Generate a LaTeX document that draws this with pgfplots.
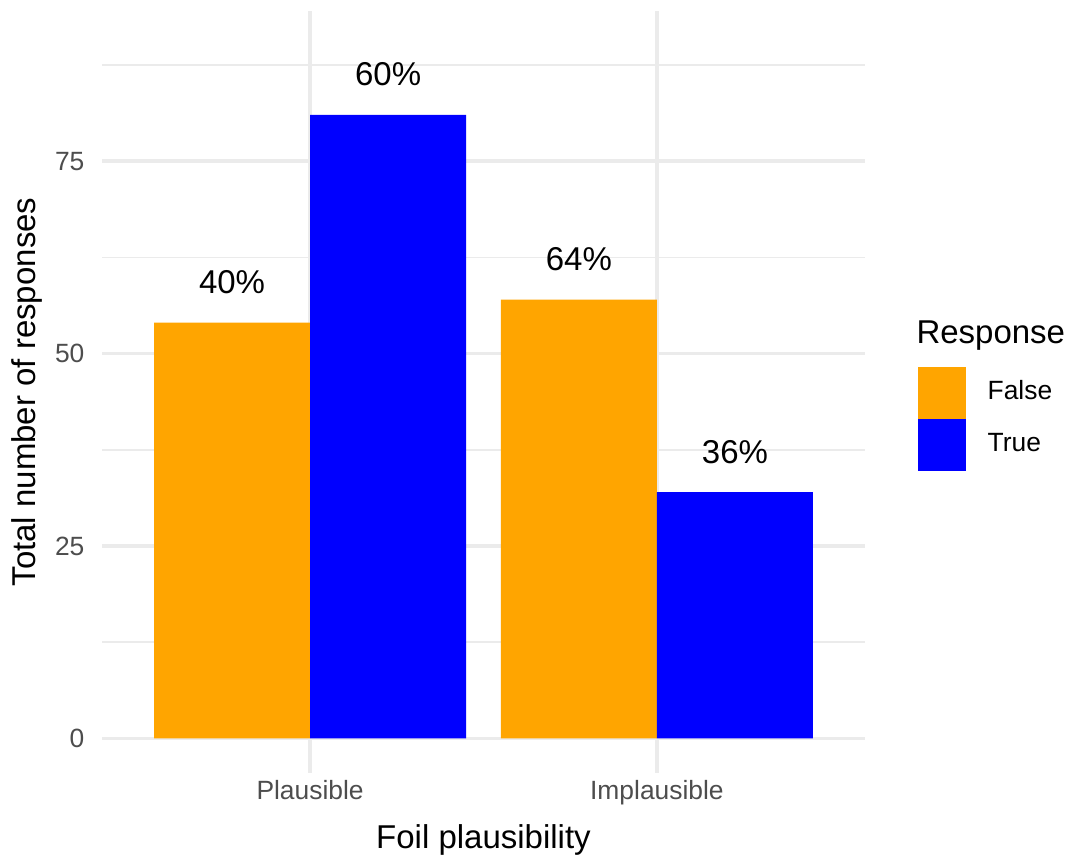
\documentclass[border=0pt]{standalone}
\usepackage{pgfplots}
\pgfplotsset{compat=1.18}
\usepackage{fontspec}
\setmainfont{Liberation Sans}
\definecolor{ggorange}{HTML}{FFA500}
\definecolor{ggblue}{HTML}{0000FF}
\definecolor{gggrid}{HTML}{EBEBEB}
\definecolor{ggtick}{HTML}{4D4D4D}
\begin{document}
\begin{tikzpicture}
\path[use as bounding box] (0,0) rectangle (355pt,285.67pt);
\begin{axis}[
  at={(34pt,28pt)}, anchor=south west,
  scale only axis, width=254.33pt, height=254pt,
  xmin=0.4, xmax=2.6, ymin=-4.5, ymax=94.5,
  ybar, bar width=0.45,
  axis line style={draw=none},
  major tick length=0pt, minor tick length=0pt,
  xtick={1,2}, xticklabels={Plausible,Implausible},
  ytick={0,25,50,75},
  minor ytick={12.5,37.5,62.5,87.5},
  xmajorgrids, ymajorgrids, yminorgrids,
  major grid style={color=gggrid, line width=1.07pt},
  minor grid style={color=gggrid, line width=0.53pt},
  /pgf/number format/assume math mode=true,
  ticklabel style={font=\fontsize{8.8}{10}\selectfont, text=ggtick, inner sep=0pt},
  xticklabel style={anchor=base, yshift=-8.67pt},
  yticklabel style={anchor=east, xshift=-5.67pt},
  xlabel={Foil plausibility},
  ylabel={Total number of responses},
  label style={font=\fontsize{11}{13}\selectfont, inner sep=0pt},
  xlabel style={at={(axis description cs:0.5,-0.0997)}, anchor=base},
  ylabel style={at={(axis description cs:-0.0878,0.5)}, anchor=base},
  nodes near coords,
  point meta=explicit symbolic,
  nodes near coords style={font=\fontsize{11}{13}\selectfont, text=black, anchor=base, inner sep=0pt, yshift=9.67pt},
  legend style={at={(axis description cs:1.0682,0.5341)}, anchor=north west,
    draw=none, fill=none, inner sep=0pt, row sep=0pt, column sep=7.33pt,
    font=\fontsize{8.8}{10}\selectfont, cells={anchor=west}, nodes={inner sep=0pt}},
]
\addplot[fill=ggorange, draw=none, bar shift=-0.225,
  legend image code/.code={\path (0pt,-8.667pt) rectangle (16pt,8.667pt); \fill[ggorange] (0pt,-8.333pt) rectangle (16pt,8.333pt);}]
  coordinates {(1,54) [40\%] (2,57) [64\%]};
\addlegendentry{False}
\addplot[fill=ggblue, draw=none, bar shift=0.225,
  legend image code/.code={\path (0pt,-8.667pt) rectangle (16pt,8.667pt); \fill[ggblue] (0pt,-8.333pt) rectangle (16pt,8.333pt);}]
  coordinates {(1,81) [60\%] (2,32) [36\%]};
\addlegendentry{True}
\end{axis}
\node[anchor=base west, inner sep=0pt, font=\fontsize{11}{13}\selectfont] at (305.3pt,171.33pt) {Response};
\end{tikzpicture}
\end{document}
